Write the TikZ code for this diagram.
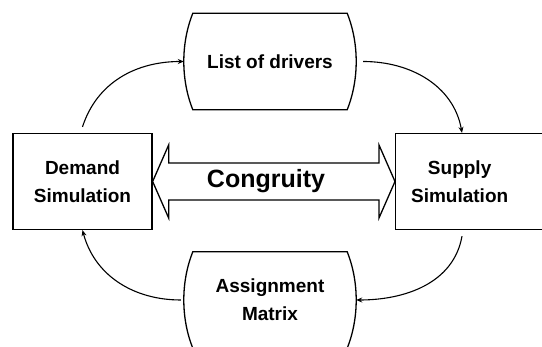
\documentclass[tikz,border=0pt]{standalone}
\usepackage{fontspec}
\setmainfont{Liberation Sans}
\usetikzlibrary{calc, arrows.meta}

\begin{document}
\begin{tikzpicture}[x=1pt, y=1pt, font=\bfseries\fontsize{19}{28}\selectfont,
		simbox/.style={draw, line width=1.3pt, minimum width=139pt, minimum height=96pt, align=center, inner sep=0pt},
		bowbox/.style={minimum width=172pt, minimum height=96pt, align=center},
		outl/.style={line width=1.3pt},
		flow/.style={line width=1.1pt, -{Stealth[length=6pt, width=5pt]}}]
			\useasboundingbox (0,0) rectangle (542,347);
			\node[simbox] (dem) at (82.5,165.5) {Demand\\Simulation};
			\node[simbox, minimum width=160pt, anchor=west,
			      label={[align=center, xshift=-16pt]center:Supply\\Simulation}] (sup) at (395,165.5) {};
			\node[bowbox] (lst) at (270,285.5) {List of drivers};
			\node[bowbox] (asg) at (270,47) {Assignment\\Matrix};
			\foreach \n in {lst, asg}
				\draw[outl] ([xshift=9pt]\n.north west) -- ([xshift=-9pt]\n.north east)
				  .. controls +(12,-30) and +(12,30) .. ([xshift=-9pt]\n.south east)
				  -- ([xshift=9pt]\n.south west)
				  .. controls +(-12,30) and +(-12,-30) .. ([xshift=9pt]\n.north west) -- cycle;
			\draw[outl] (dem.east) -- ++(16,36.5) -- ++(0,-18) -- ($(sup.west)+(-16,18.5)$) -- ++(0,18)
			  -- (sup.west) -- ++(-16,-36.5) -- ++(0,18) -- ($(dem.east)+(16,-18.5)$) -- ++(0,-18) -- cycle;
			\node[font=\bfseries\fontsize{25}{30}\selectfont] (cong) at (266,165.5) {Congruity};
			\draw[flow] ([yshift=6pt]dem.north) to[out=72, in=180] (lst.west);
			\draw[flow] ([xshift=7pt]lst.east) to[out=0, in=100] ([xshift=67pt]sup.north west);
			\draw[flow] ([xshift=67pt, yshift=-6pt]sup.south west) to[out=-100, in=0] (asg.east);
			\draw[flow] ([xshift=-3pt]asg.west) to[out=180, in=-75] (dem.south);
		\end{tikzpicture}
\end{document}
